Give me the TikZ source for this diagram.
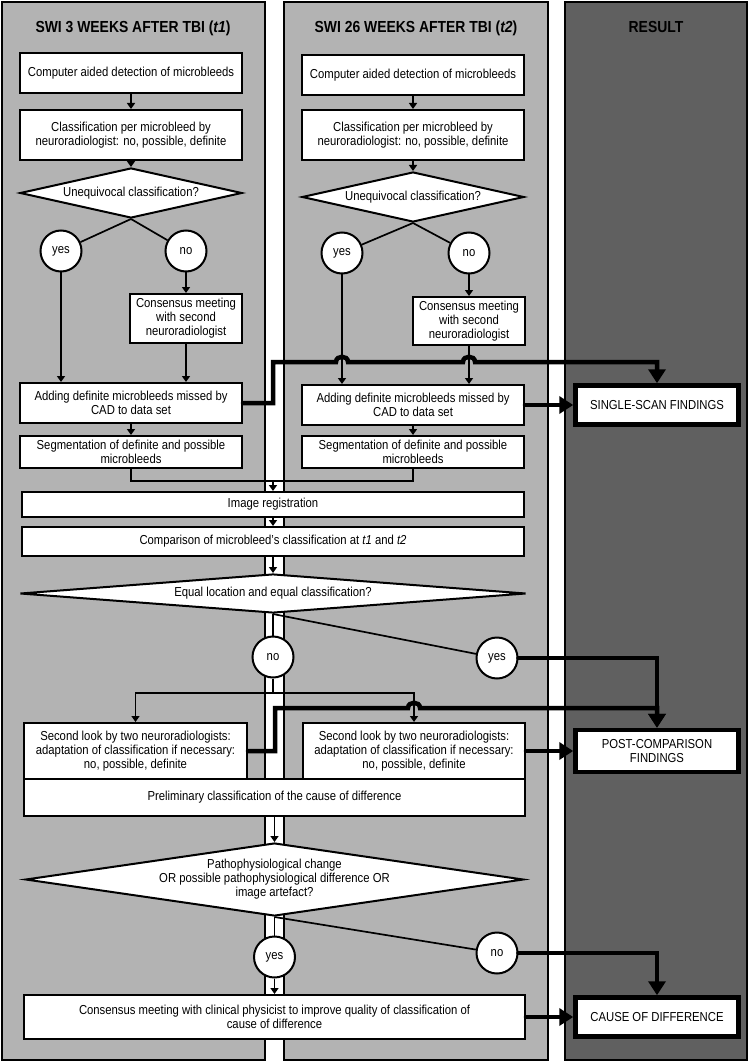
\documentclass[tikz,border=0pt]{standalone}
\usepackage{fontspec}
\setmainfont{Liberation Sans}[FakeStretch=0.87]
\usetikzlibrary{arrows.meta,calc,shapes.geometric}
\definecolor{pl}{HTML}{B3B3B3}
\definecolor{pd}{HTML}{606060}
\begin{document}
\begin{tikzpicture}[x=1pt,y=-1pt,
  font=\fontsize{13}{14}\selectfont,
  panel/.style={draw, line width=2pt},
  title/.style={font=\fontsize{16}{18}\selectfont\bfseries},
  box/.style={draw, fill=white, line width=2pt, align=center, inner sep=0pt},
  res/.style={draw, fill=white, line width=4.5pt, align=center, inner sep=0pt, minimum width=163pt},
  dmd/.style={draw, fill=white, line width=2pt, shape=diamond, inner sep=0pt},
  dtext/.style={align=center, inner sep=0pt},
  circ/.style={draw, fill=white, circle, line width=2pt, minimum size=41pt, inner sep=0pt},
  con/.style={line width=1.7pt},
  arr/.style={con, -{Triangle[width=8pt,length=6pt]}},
  heavy/.style={line width=4.5pt, line join=miter, line cap=round},
  heavyarr/.style={heavy, -{Triangle[width=17pt,length=14pt]}},
]
\useasboundingbox (0,0) rectangle (749,1064);
\fill[white] (0,0) rectangle (749,1064);
% panels
\draw[panel, fill=pl] (2,2) rectangle (265,1060);
\draw[panel, fill=pl] (284,2) rectangle (548,1060);
\draw[panel, fill=pd] (565,2) rectangle (747,1060);
\node[title] (t1) at (133,28) {SWI 3 WEEKS AFTER TBI (\textit{t1})};
\node[title] (t2) at (416,28) {SWI 26 WEEKS AFTER TBI (\textit{t2})};
\node[title] (t3) at (656,27) {RESULT};

% panel 1
\node[box, minimum width=222pt, minimum height=40pt] (cad1) at (131,73) {Computer aided detection of microbleeds};
\node[box, minimum width=222pt, minimum height=50pt] (cls1) at (131,135) {Classification per microbleed by\\neuroradiologist: no, possible, definite};
\node[dmd, minimum width=222pt, minimum height=50pt] (dia1) at (131,193) {};
\node[dtext] (dia1t) at (dia1.center) {Unequivocal classification?};
\node[circ] (yes1) at (61,251) {yes};
\node[circ] (no1) at (186,251) {no};
\node[box, minimum width=112pt, minimum height=49pt] (con1) at (186,318.5) {Consensus meeting\\with second\\neuroradiologist};
\node[box, minimum width=222pt, minimum height=40pt] (add1) at (131,403) {Adding definite microbleeds missed by\\CAD to data set};
\node[box, minimum width=222pt, minimum height=32pt] (seg1) at (131,452) {Segmentation of definite and possible\\microbleeds};

% panel 2
\node[box, minimum width=222pt, minimum height=40pt] (cad2) at (413,75) {Computer aided detection of microbleeds};
\node[box, minimum width=222pt, minimum height=50pt] (cls2) at (413,135) {Classification per microbleed by\\neuroradiologist: no, possible, definite};
\node[dmd, minimum width=222pt, minimum height=50pt] (dia2) at (413,197) {};
\node[dtext] (dia2t) at (dia2.center) {Unequivocal classification?};
\node[circ] (yes2) at (342,253) {yes};
\node[circ] (no2) at (469,253) {no};
\node[box, minimum width=112pt, minimum height=48pt] (con2) at (469,321) {Consensus meeting\\with second\\neuroradiologist};
\node[box, minimum width=222pt, minimum height=40pt] (add2) at (413,405) {Adding definite microbleeds missed by\\CAD to data set};
\node[box, minimum width=222pt, minimum height=32pt] (seg2) at (413,452) {Segmentation of definite and possible\\microbleeds};

% results
\node[res, minimum height=39pt] (ss) at (657,405) {SINGLE-SCAN FINDINGS};
\node[res, minimum height=42pt] (post) at (657,751) {POST-COMPARISON\\FINDINGS};
\node[res, minimum height=39pt] (cod) at (657,1017) {CAUSE OF DIFFERENCE};

% central
\node[box, minimum width=502pt, minimum height=25pt] (reg) at (273,504.5) {Image registration};
\node[box, minimum width=502pt, minimum height=29pt] (cmp) at (273,541.5) {Comparison of microbleed's classification at \textit{t1} and \textit{t2}};
\node[dmd, minimum width=506pt, minimum height=39pt] (eq) at (273,593.5) {};
\node[dtext] (eqt) at (eq.center) {Equal location and equal classification?};
\node[circ] (no3) at (273,657) {no};
\node[circ] (yes3) at (497,658) {yes};
\node[box, minimum width=223pt, minimum height=56pt] (sl1) at (135.5,751) {Second look by two neuroradiologists:\\adaptation of classification if necessary:\\no, possible, definite};
\node[box, minimum width=222pt, minimum height=56pt] (sl2) at (414,751) {Second look by two neuroradiologists:\\adaptation of classification if necessary:\\no, possible, definite};
\node[box, minimum width=501pt, minimum height=37pt] (prel) at (274.5,797.5) {Preliminary classification of the cause of difference};
\node[dmd, minimum width=498pt, minimum height=73pt] (pat) at (274.5,879.5) {};
\node[dtext] (patt) at (pat.center) {Pathophysiological change\\OR possible pathophysiological difference OR\\image artefact?};
\node[circ] (yes4) at (274.5,957) {yes};
\node[circ] (no4) at (497,953) {no};
\node[box, minimum width=501pt, minimum height=44pt] (cons) at (274.5,1017) {Consensus meeting with clinical physicist to improve quality of classification of\\cause of difference};

% connectors panel 1
\draw[arr] (cad1) -- (cls1);
\draw[arr] (cls1) -- (dia1);
\draw[con] (dia1.south) -- (yes1);
\draw[con] (dia1.south) -- (no1);
\draw[arr] (yes1) -- (yes1 |- add1.north);
\draw[arr] (no1) -- (con1);
\draw[arr] (con1) -- (con1.south |- add1.north);
\draw[arr] (add1.south) -- (seg1.north);
% connectors panel 2
\draw[arr] (cad2) -- (cls2);
\draw[arr] (cls2) -- (dia2);
\draw[con] (dia2.south) -- (yes2);
\draw[con] (dia2.south) -- (no2);
\draw[arr] (yes2) -- (yes2 |- add2.north);
\draw[arr] (no2) -- (con2);
\draw[arr] (con2) -- (con2.south |- add2.north);
\draw[arr] (add2.south) -- (seg2.north);
% to registration
\coordinate (jreg) at (273,481);
\draw[con] (seg1.south) |- (jreg);
\draw[con] (seg2.south) |- (jreg);
\draw[arr] (jreg) -- (reg.north);
\draw[arr] (reg) -- (cmp);
\draw[arr] (cmp) -- (eq);
\draw[con] (eq.south) -- (no3);
\draw[con] (eq.south) -- (yes3);
\coordinate (jno) at (273,693);
\draw[con] (no3.south) -- (jno);
\draw[arr] (jno) -| (sl1.north);
\draw[arr] (jno) -| (sl2.north);
\draw[arr] (prel.south) -- (pat.north);
\draw[con] (pat.south) -- (yes4);
\draw[con] (pat.south) -- (no4);
\draw[arr] (yes4) -- (cons.north);

% heavy connectors
\draw[heavyarr] (add1.east) -- (273,403) -- (273,362) -- (336,362)
  .. controls (336,355) and (348,355) .. (348,362) -- (463,362)
  .. controls (463,355) and (475,355) .. (475,362) -- (657,362) -- (ss.north);
\draw[heavyarr] (add2.east) -- (ss.west);
\draw[heavyarr] (yes3.east) -| (post.north);
\draw[heavyarr] (sl1.east) -- (275,751) -- (275,708) -- (408,708)
  .. controls (408,701) and (420,701) .. (420,708) -- (657,708) -- (post.north);
\draw[heavyarr] (sl2.east) -- (post.west);
\draw[heavyarr] (no4.east) -| (cod.north);
\draw[heavyarr] (cons.east) -- (cod.west);
\end{tikzpicture}
\end{document}
